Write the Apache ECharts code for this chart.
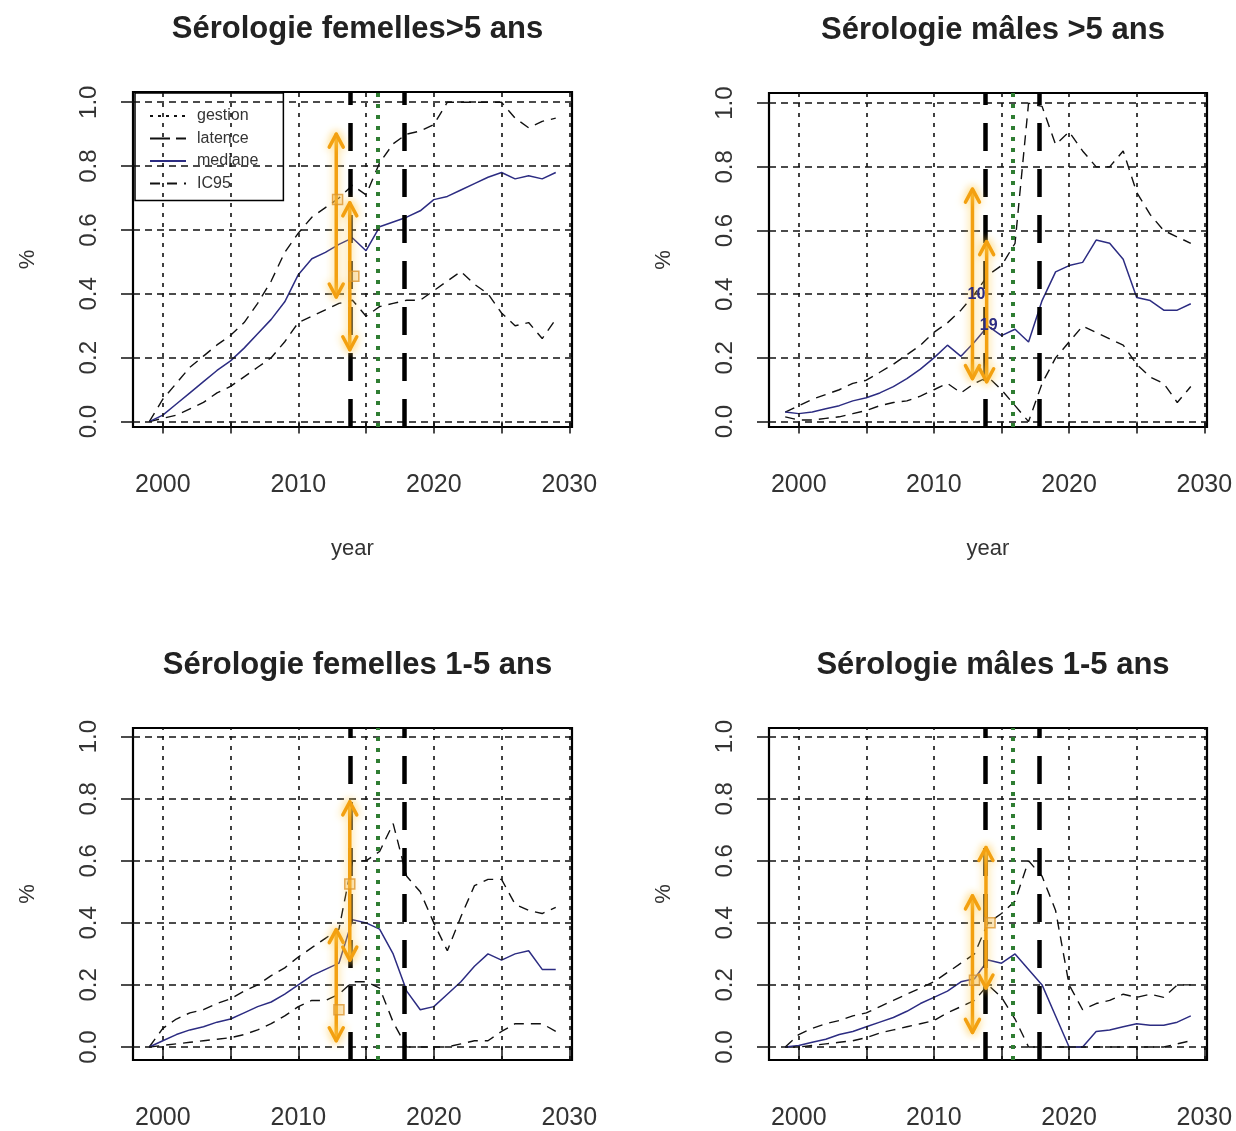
<!DOCTYPE html>
<html>
<head>
<meta charset="utf-8">
<script src="https://cdn.jsdelivr.net/npm/echarts@6/dist/echarts.min.js"></script>
<style>
html,body{margin:0;padding:0;background:#fff}
#chart{width:1236px;height:1131px}
</style>
</head>
<body>
<div id="chart"></div>
<script>
// Years simulated
const years = [1999,2000,2001,2002,2003,2004,2005,2006,2007,2008,2009,2010,2011,2012,2013,2014,
  2015,2016,2017,2018,2019,2020,2021,2022,2023,2024,2025,2026,2027,2028,2029];

// Femelles > 5 ans
const f5Med = [0.00,0.02,0.055,0.09,0.125,0.16,0.19,0.23,0.275,0.32,0.375,0.46,0.51,0.53,0.555,0.575,
  0.535,0.61,0.625,0.64,0.66,0.695,0.705,0.725,0.745,0.765,0.78,0.76,0.77,0.76,0.78];
const f5Hi = [0.00,0.07,0.12,0.17,0.205,0.24,0.27,0.31,0.37,0.44,0.53,0.59,0.64,0.67,0.70,0.74,
  0.71,0.81,0.87,0.90,0.91,0.93,1.00,1.00,1.00,1.00,1.00,0.95,0.92,0.94,0.95];
const f5Lo = [0.00,0.01,0.02,0.04,0.06,0.09,0.11,0.14,0.17,0.20,0.25,0.31,0.33,0.35,0.37,0.38,
  0.33,0.36,0.37,0.38,0.38,0.41,0.44,0.47,0.43,0.40,0.34,0.30,0.31,0.26,0.32];

// Mâles > 5 ans
const m5Med = [0.03,0.025,0.03,0.04,0.05,0.065,0.075,0.09,0.11,0.135,0.165,0.20,0.24,0.205,0.25,0.30,
  0.27,0.29,0.25,0.38,0.47,0.49,0.50,0.57,0.56,0.51,0.39,0.38,0.35,0.35,0.37];
const m5Hi = [0.03,0.05,0.07,0.085,0.10,0.12,0.13,0.155,0.18,0.21,0.24,0.28,0.31,0.35,0.40,0.46,
  0.49,0.56,1.00,0.99,0.87,0.91,0.85,0.80,0.80,0.85,0.72,0.65,0.60,0.58,0.56];
const m5Lo = [0.015,0.005,0.005,0.01,0.015,0.025,0.035,0.05,0.06,0.065,0.08,0.10,0.12,0.09,0.12,0.14,
  0.10,0.05,0.00,0.12,0.20,0.25,0.30,0.28,0.26,0.24,0.18,0.14,0.12,0.06,0.11];

// Femelles 1-5 ans
const f15Med = [0.00,0.02,0.04,0.055,0.065,0.08,0.09,0.11,0.13,0.145,0.17,0.20,0.23,0.25,0.27,0.41,
  0.40,0.38,0.30,0.18,0.12,0.13,0.17,0.21,0.26,0.30,0.28,0.30,0.31,0.25,0.25];
const f15Hi = [0.00,0.06,0.09,0.11,0.12,0.14,0.155,0.18,0.20,0.23,0.255,0.29,0.32,0.35,0.38,0.60,
  0.60,0.63,0.72,0.55,0.50,0.40,0.31,0.42,0.52,0.54,0.54,0.46,0.44,0.43,0.45];
const f15Lo = [0.00,0.005,0.01,0.015,0.02,0.025,0.03,0.04,0.055,0.075,0.10,0.13,0.15,0.15,0.17,0.21,
  0.21,0.19,0.08,0.00,0.00,0.00,0.00,0.01,0.02,0.02,0.05,0.075,0.075,0.075,0.05];

// Mâles 1-5 ans
const m15Med = [0.00,0.005,0.015,0.025,0.04,0.05,0.065,0.08,0.095,0.115,0.14,0.16,0.18,0.21,0.22,0.28,
  0.27,0.30,0.25,0.20,0.10,0.00,0.00,0.05,0.055,0.065,0.075,0.07,0.07,0.08,0.10];
const m15Hi = [0.00,0.04,0.06,0.075,0.085,0.10,0.11,0.13,0.15,0.17,0.19,0.21,0.24,0.27,0.30,0.40,
  0.43,0.47,0.60,0.55,0.44,0.20,0.12,0.14,0.15,0.17,0.16,0.17,0.16,0.20,0.20];
const m15Lo = [0.00,0.00,0.005,0.01,0.015,0.02,0.03,0.045,0.055,0.065,0.075,0.085,0.11,0.13,0.15,0.20,
  0.16,0.09,0.00,0.00,0.00,0.00,0.00,0.00,0.00,0.00,0.00,0.00,0.00,0.01,0.02];

// Observed serology intervals: [year, low, high]
const f5Obs = [[2012.8,0.39,0.90],[2013.8,0.225,0.685]];
const m5Obs = [[2012.85,0.135,0.73],[2013.9,0.125,0.565]];
const f15Obs = [[2012.8,0.02,0.378],[2013.8,0.28,0.79]];
const m15Obs = [[2012.85,0.047,0.487],[2013.85,0.19,0.643]];

// Observed point estimates: [year, value]
const f5Pts = [[2012.9,0.695],[2014.1,0.455]];
const f15Pts = [[2013.0,0.12],[2013.8,0.525]];
const m15Pts = [[2013.0,0.215],[2014.15,0.40]];

// Sample-size tags: [year, value, text]
const m5Tags = [[2013.15,0.40,'10'],[2014.05,0.30,'19']];

// Reference years
const latenceYears = [2013.8, 2017.8];
const gestionYears = [2015.85];

// Axes
const xTicks = [2000,2005,2010,2015,2020,2025,2030];
const xLabels = [2000,2010,2020,2030];
const yTicks = [0,0.2,0.4,0.6,0.8,1.0];

const titles = ['Sérologie femelles>5 ans','Sérologie mâles >5 ans','Sérologie femelles 1-5 ans','Sérologie mâles 1-5 ans'];

const FONT = '"Liberation Sans", Arial, sans-serif';
const NAVY = '#2c2c82';
const ORANGE = '#f3a010';

const panels = [
  {med:f5Med, hi:f5Hi, lo:f5Lo, obs:f5Obs, pts:f5Pts, tags:[], grid:{left:133,top:92,width:439,height:335}, ymin:-0.017, ymax:1.032, xname:'year'},
  {med:m5Med, hi:m5Hi, lo:m5Lo, obs:m5Obs, pts:[], tags:m5Tags, grid:{left:769,top:93,width:438,height:334}, ymin:-0.017, ymax:1.032, xname:'year'},
  {med:f15Med, hi:f15Hi, lo:f15Lo, obs:f15Obs, pts:f15Pts, tags:[], grid:{left:133,top:728,width:439,height:344}, ymin:-0.042, ymax:1.028, xname:''},
  {med:m15Med, hi:m15Hi, lo:m15Lo, obs:m15Obs, pts:m15Pts, tags:[], grid:{left:769,top:728,width:438,height:344}, ymin:-0.042, ymax:1.028, xname:''}
];

const pair = arr => years.map((y, i) => [y, arr[i]]);

function arrowItem(params, api) {
  const x = api.value(0), lo = api.value(1), hi = api.value(2);
  const a = api.coord([x, lo]), b = api.coord([x, hi]);
  const h = 13, w = 7;
  const st = () => ({stroke: ORANGE, lineWidth: 3.5, fill: null, lineCap: 'round', lineJoin: 'round',
    shadowBlur: 9, shadowColor: 'rgba(255,205,80,0.95)'});
  return {type: 'group', children: [
    {type: 'line', shape: {x1: a[0], y1: a[1], x2: b[0], y2: b[1]}, style: st()},
    {type: 'polyline', shape: {points: [[b[0]-w, b[1]+h], [b[0], b[1]], [b[0]+w, b[1]+h]]}, style: st()},
    {type: 'polyline', shape: {points: [[a[0]-w, a[1]-h], [a[0], a[1]], [a[0]+w, a[1]-h]]}, style: st()}
  ]};
}

const tagText = {};
function tagItem(params, api) {
  const p = api.coord([api.value(0), api.value(1)]);
  return {type: 'text', x: p[0], y: p[1], style: {text: tagText[params.seriesIndex][params.dataIndex],
    fill: NAVY, font: 'bold 16px ' + FONT, align: 'center', verticalAlign: 'middle'}};
}

const grids = [], xAxes = [], yAxes = [], series = [], titleOpts = [];

panels.forEach((p, k) => {
  grids.push(Object.assign({show: true, borderColor: '#000', borderWidth: 2.2, backgroundColor: 'transparent'}, p.grid));
  const cx = p.grid.left + p.grid.width / 2;
  titleOpts.push({text: titles[k], left: cx, top: p.grid.top - 83, textAlign: 'center',
    textStyle: {fontFamily: FONT, fontSize: 31, fontWeight: 'bold', color: '#222'}});
  xAxes.push({gridIndex: k, type: 'value', min: 1997.8, max: 2030.2,
    axisLine: {show: false}, splitLine: {show: false},
    axisTick: {show: true, customValues: xTicks, length: 12, lineStyle: {color: '#111', width: 1.5}},
    axisLabel: {customValues: xLabels, fontFamily: FONT, fontSize: 25, color: '#333', margin: 46,
      formatter: v => String(v)},
    name: p.xname, nameLocation: 'middle', nameGap: 111,
    nameTextStyle: {fontFamily: FONT, fontSize: 22, color: '#333'}});
  yAxes.push({gridIndex: k, type: 'value', min: p.ymin, max: p.ymax,
    axisLine: {show: false}, splitLine: {show: false},
    axisTick: {show: true, customValues: yTicks, length: 12, lineStyle: {color: '#111', width: 1.5}},
    axisLabel: {customValues: yTicks, rotate: 90, fontFamily: FONT, fontSize: 24, color: '#333', margin: 32,
      formatter: v => v.toFixed(1)},
    name: '%', nameLocation: 'middle', nameRotate: 90, nameGap: 94,
    nameTextStyle: {fontFamily: FONT, fontSize: 22, color: '#333'}});

  // dotted reference grid
  const gridMarks = [];
  xTicks.forEach(v => gridMarks.push({xAxis: v, lineStyle: {color: '#111', width: 1.6, type: [4, 6]}}));
  yTicks.forEach(v => gridMarks.push({yAxis: v, lineStyle: {color: '#111', width: 1.6, type: [7, 5]}}));
  series.push({type: 'line', name: 'grid' + k, xAxisIndex: k, yAxisIndex: k, data: [], z: 1, silent: true,
    markLine: {silent: true, symbol: 'none', label: {show: false}, animation: false, data: gridMarks}});

  series.push({type: 'line', name: 'IC95', xAxisIndex: k, yAxisIndex: k, data: pair(p.hi), z: 3,
    symbol: 'none', itemStyle: {color: '#111'}, lineStyle: {color: '#111', width: 1.4, type: [10, 7]}, animation: false});
  series.push({type: 'line', name: 'IC95', xAxisIndex: k, yAxisIndex: k, data: pair(p.lo), z: 3,
    symbol: 'none', itemStyle: {color: '#111'}, lineStyle: {color: '#111', width: 1.4, type: [10, 7]}, animation: false});
  series.push({type: 'line', name: 'mediane', xAxisIndex: k, yAxisIndex: k, data: pair(p.med), z: 3,
    symbol: 'none', itemStyle: {color: NAVY}, lineStyle: {color: NAVY, width: 1.5}, animation: false});

  // management / latency reference years
  const eventMarks = [];
  latenceYears.forEach(v => eventMarks.push({xAxis: v, lineStyle: {color: '#000', width: 4.5, type: [28, 18]}}));
  gestionYears.forEach(v => eventMarks.push({xAxis: v, lineStyle: {color: '#2f7d32', width: 4, type: [4, 7]}}));
  series.push({type: 'line', name: 'events' + k, xAxisIndex: k, yAxisIndex: k, data: [], z: 4, silent: true,
    markLine: {silent: true, symbol: 'none', label: {show: false}, animation: false, data: eventMarks}});

  series.push({type: 'custom', name: 'obs' + k, xAxisIndex: k, yAxisIndex: k, data: p.obs, z: 5,
    renderItem: arrowItem, animation: false, silent: true});

  if (p.pts.length) {
    series.push({type: 'scatter', name: 'pts' + k, xAxisIndex: k, yAxisIndex: k, data: p.pts, z: 6,
      symbol: 'rect', symbolSize: 10, silent: true, animation: false,
      itemStyle: {color: 'rgba(245,190,90,0.45)', borderColor: '#dc9630', borderWidth: 1.5}});
  }

  if (p.tags.length) {
    const idx = series.length;
    tagText[idx] = p.tags.map(t => t[2]);
    series.push({type: 'custom', name: 'tags' + k, xAxisIndex: k, yAxisIndex: k,
      data: p.tags.map(t => [t[0], t[1]]), z: 6, renderItem: tagItem, animation: false, silent: true});
  }
});

// legend-only entries for the reference lines
series.push({type: 'line', name: 'gestion', xAxisIndex: 0, yAxisIndex: 0, data: [], symbol: 'none',
  itemStyle: {color: '#111'}, lineStyle: {color: '#111', width: 1.5, type: [3, 5]}});
series.push({type: 'line', name: 'latence', xAxisIndex: 0, yAxisIndex: 0, data: [], symbol: 'none',
  itemStyle: {color: '#111'}, lineStyle: {color: '#111', width: 2, type: [20, 6]}});

const chart = echarts.init(document.getElementById('chart'), null, {renderer: 'canvas'});
chart.setOption({
  backgroundColor: '#fff',
  animation: false,
  title: titleOpts,
  grid: grids,
  xAxis: xAxes,
  yAxis: yAxes,
  legend: {
    left: 135, top: 93, orient: 'vertical',
    data: ['gestion', 'latence', 'mediane', 'IC95'],
    borderColor: '#000', borderWidth: 1.5, padding: [15, 25, 9, 14],
    itemWidth: 36, itemHeight: 12, itemGap: 6.5,
    itemStyle: {opacity: 0},
    textStyle: {fontFamily: FONT, fontSize: 16, color: '#333', padding: [0, 0, 0, 6]},
    selectedMode: false
  },
  series: series
});
</script>
</body>
</html>
